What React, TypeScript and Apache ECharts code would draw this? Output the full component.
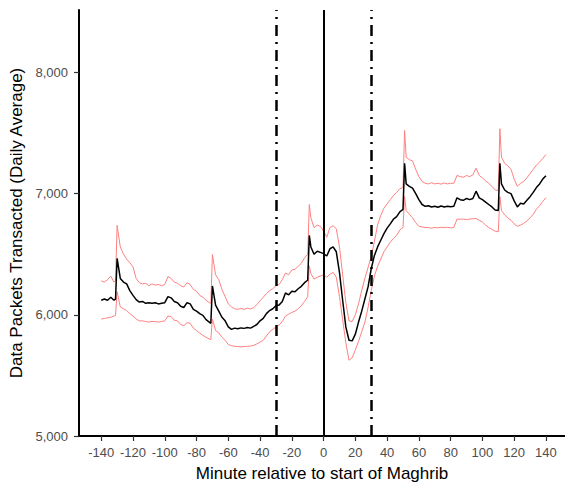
import React, { useEffect, useRef } from "react";
import * as echarts from "echarts";

// Minutes relative to start of Maghrib
const minutes = [
  -140, -138, -136, -134, -132, -131,
  -130, -128, -126, -124, -122, -120, -118, -116, -114, -112, -110, -108, -106, -104, -102, -100,
  -98, -96, -94, -92, -90, -88, -86, -84, -82, -80, -78, -76, -74, -72, -71,
  -70, -68, -66, -64, -62, -60, -58, -56, -54, -52, -50, -48, -46, -44, -42, -40, -38, -36, -34, -32, -30,
  -28, -26, -24, -22, -20, -18, -16, -14, -12, -10, -9, -8,
  -6, -4, -2, 0, 2, 4, 6, 8, 10, 12, 14, 16, 18, 20, 22, 24, 26, 28,
  30, 32, 34, 36, 38, 40, 42, 44, 46, 48, 50,
  51, 52, 54, 56, 58, 60, 62, 64, 66, 68, 70, 72, 74, 76, 78, 80, 82,
  84, 86, 88, 90, 92, 94, 96, 98, 100, 102, 104, 106, 108, 110,
  111, 112, 114, 116, 118, 120, 122, 124, 126, 128, 130, 132, 134, 136, 138, 140,
];

const meanVals = [
  6120, 6130, 6120, 6145, 6120, 6130,
  6465, 6300, 6270, 6255, 6200, 6160, 6125, 6105, 6110, 6095, 6100, 6095, 6100, 6090, 6095, 6100,
  6150, 6140, 6110, 6100, 6070, 6060, 6100, 6090, 6045, 6030, 6010, 5995, 5960, 5940, 5930,
  6238, 6080, 6030, 5980, 5950, 5900, 5880, 5890, 5885, 5892, 5888, 5895, 5890, 5905, 5920, 5950, 5970, 6010, 6035, 6050, 6075,
  6080, 6110, 6180, 6165, 6195, 6190, 6215, 6235, 6265, 6285, 6655, 6560,
  6500, 6525, 6515, 6505, 6485, 6545, 6560, 6520, 6350, 6120, 5900, 5790, 5785, 5840, 5940, 6030, 6130, 6230,
  6380, 6490, 6560, 6615, 6670, 6715, 6750, 6790, 6810, 6850, 6870,
  7250, 7080, 7060, 7045, 7000, 6950, 6910, 6895, 6900, 6890, 6895, 6888, 6898, 6890, 6895, 6892, 6895,
  6965, 6950, 6945, 6960, 6950, 6960, 7020, 6965, 6950, 6930, 6910, 6890, 6865, 6860,
  7250, 7080, 7030, 7010, 7000, 6940, 6890, 6920, 6915, 6945, 6975, 7010, 7050, 7080, 7120, 7148,
];

const upperVals = [
  6280, 6270, 6290, 6320, 6270, 6280,
  6738, 6560, 6500, 6460, 6430, 6395, 6300, 6265, 6255, 6260, 6240, 6255, 6245, 6250, 6240, 6250,
  6315, 6300, 6270, 6260, 6240, 6230, 6265, 6250, 6210, 6195, 6160, 6145, 6120, 6100, 6095,
  6497, 6330, 6290, 6210, 6150, 6090, 6065, 6050, 6045, 6052, 6045, 6055, 6048, 6060, 6085, 6115, 6145, 6175, 6200, 6215, 6240,
  6250, 6290, 6345, 6330, 6370, 6375, 6400, 6425, 6470, 6500, 6910, 6800,
  6720, 6740, 6730, 6690, 6640, 6720, 6735, 6710, 6560, 6330, 6100, 5950, 5945, 6000, 6090, 6200, 6300, 6390,
  6480, 6607, 6740, 6820, 6880, 6915, 6950, 6985, 7010, 7040, 7050,
  7522, 7300, 7280, 7270, 7200, 7140, 7100, 7085, 7080, 7090, 7080, 7085, 7078, 7088, 7080, 7085, 7085,
  7150, 7140, 7135, 7150, 7140, 7155, 7210, 7150, 7130, 7105, 7085, 7060, 7030, 7025,
  7535, 7300, 7250, 7230, 7200, 7120, 7060, 7085, 7100, 7130, 7165, 7200, 7235, 7260, 7290, 7322,
];

const lowerVals = [
  5965, 5970, 5975, 5980, 5990, 5995,
  6191, 6065, 6050, 6035, 6010, 5990, 5965, 5950, 5950, 5945, 5940, 5945, 5945, 5940, 5945, 5950,
  5990, 5985, 5955, 5950, 5920, 5910, 5935, 5930, 5890, 5870, 5850, 5830, 5815, 5800, 5795,
  5965, 5870, 5850, 5815, 5790, 5755, 5745, 5740, 5738, 5735, 5738, 5740, 5742, 5748, 5760, 5775, 5790, 5825, 5860, 5880, 5900,
  5915, 5945, 5990, 6005, 6020, 6030, 6050, 6075, 6110, 6150, 6405, 6340,
  6295, 6310, 6320, 6330, 6310, 6335, 6350, 6310, 6150, 5960, 5770, 5625, 5645, 5710, 5780, 5860, 5940, 6060,
  6200, 6320, 6400, 6460, 6520, 6560, 6600, 6630, 6655, 6700, 6720,
  6975, 6860, 6830, 6800, 6760, 6730, 6725, 6720, 6720, 6715, 6720, 6718, 6722, 6720, 6722, 6718, 6720,
  6790, 6788, 6790, 6785, 6790, 6792, 6795, 6780, 6765, 6740, 6720, 6705, 6690, 6685,
  6975, 6860, 6825, 6800, 6780, 6750, 6730, 6740, 6755, 6775, 6800, 6830, 6870, 6900, 6935, 6967,
];

const xTicks = [-140, -120, -100, -80, -60, -40, -20, 0, 20, 40, 60, 80, 100, 120, 140];
const yTicks = [5000, 6000, 7000, 8000];
const solidLines = [0];
const dashLines = [-30, 30];

const FONT = "'Liberation Sans', Arial, Helvetica, sans-serif";

export default function App() {
  const ref = useRef<HTMLDivElement>(null);
  useEffect(() => {
    if (!ref.current) return;
    const chart = echarts.init(ref.current, undefined, { renderer: "svg" });
    const zip = (vals: number[]) => minutes.map((m, i) => [m, vals[i]]);
    chart.setOption({
      animation: false,
      backgroundColor: "#ffffff",
      textStyle: { fontFamily: FONT },
      grid: { left: 79, right: 0, top: 10, bottom: 51, containLabel: false, outerBoundsMode: "none" },
      xAxis: {
        type: "value",
        min: -154,
        max: 152,
        name: "Minute relative to start of Maghrib",
        nameLocation: "middle",
        nameGap: 29,
        nameTextStyle: { fontSize: 17, color: "#000", fontFamily: FONT },
        splitLine: { show: false },
        axisLine: { show: true, onZero: false, lineStyle: { color: "#000", width: 2 } },
        axisTick: { show: true, length: 5, customValues: xTicks, lineStyle: { color: "#333", width: 1.2 } },
        axisLabel: { customValues: xTicks, color: "#4d4d4d", fontSize: 13, margin: 10, fontFamily: FONT },
      },
      yAxis: {
        type: "value",
        min: 5000,
        max: 8515,
        name: "Data Packets Transacted (Daily Average)",
        nameLocation: "middle",
        nameGap: 50,
        nameTextStyle: { fontSize: 17, color: "#000", fontFamily: FONT },
        splitLine: { show: false },
        axisLine: { show: true, onZero: false, lineStyle: { color: "#000", width: 2 } },
        axisTick: { show: true, length: 5, customValues: yTicks, lineStyle: { color: "#333", width: 1.2 } },
        axisLabel: {
          customValues: yTicks,
          color: "#4d4d4d",
          fontSize: 13,
          margin: 11,
          fontFamily: FONT,
          formatter: (v: number) => v.toLocaleString("en-US"),
        },
      },
      series: [
        {
          type: "line",
          data: [],
          silent: true,
          markLine: {
            silent: true,
            symbol: "none",
            label: { show: false },
            data: [
              ...solidLines.map((v) => ({ xAxis: v, lineStyle: { color: "#000", width: 2, type: "solid" } })),
              ...dashLines.map((v) => ({
                xAxis: v,
                lineStyle: { color: "#000", width: 2.5, type: [11, 6, 2, 6] },
              })),
            ],
          },
        },
        {
          type: "line",
          data: zip(upperVals),
          showSymbol: false,
          lineStyle: { color: "#ff8080", width: 1 },
        },
        {
          type: "line",
          data: zip(lowerVals),
          showSymbol: false,
          lineStyle: { color: "#ff8080", width: 1 },
        },
        {
          type: "line",
          data: zip(meanVals),
          showSymbol: false,
          lineStyle: { color: "#000", width: 1.5 },
        },
      ],
    });
    return () => chart.dispose();
  }, []);
  return (
    <div
      ref={ref}
      style={{ position: "fixed", left: 0, top: 0, width: 565, height: 487, background: "#fff" }}
    />
  );
}
